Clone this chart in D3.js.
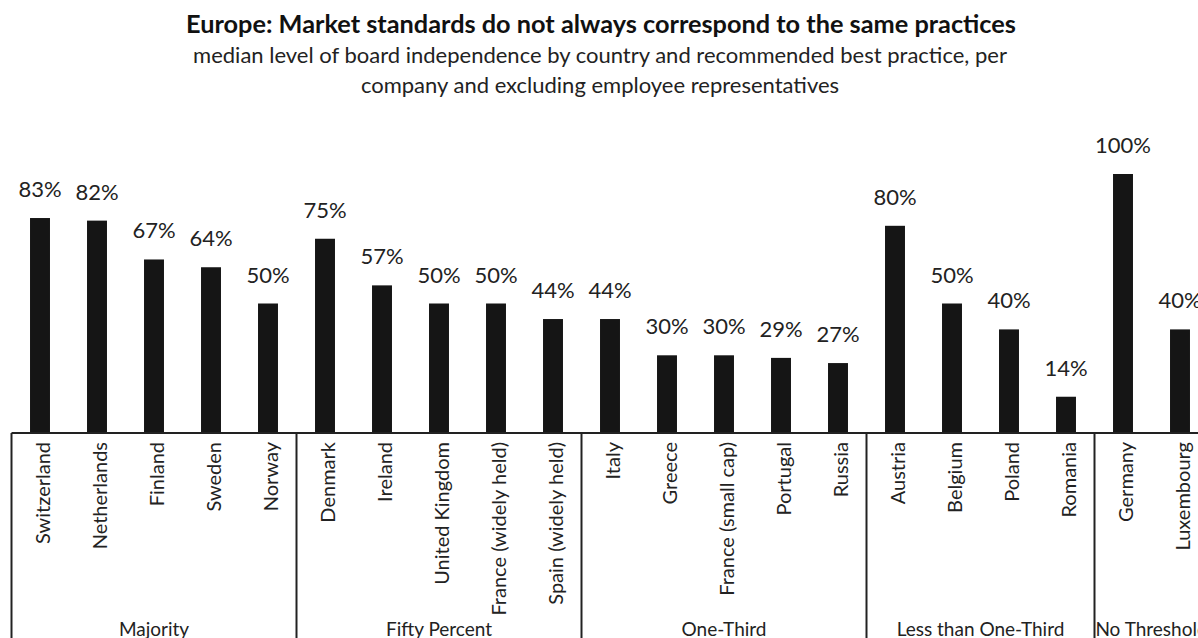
<!DOCTYPE html>
<html>
<head>
<meta charset="utf-8">
<script src="https://cdn.jsdelivr.net/npm/d3@7"></script>
<style>
  html, body { margin: 0; padding: 0; background: #fff; overflow: hidden; }
  svg { display: block; font-family: Lato, "Open Sans", sans-serif; }
</style>
</head>
<body>
<svg id="chart" width="1198" height="638"></svg>
<script>
// country names, in the order they appear on the axis
const countries = [
  "Switzerland", "Netherlands", "Finland", "Sweden", "Norway",
  "Denmark", "Ireland", "United Kingdom", "France (widely held)", "Spain (widely held)",
  "Italy", "Greece", "France (small cap)", "Portugal", "Russia",
  "Austria", "Belgium", "Poland", "Romania",
  "Germany", "Luxembourg"
];
// median board independence, percent
const independence = [
  83, 82, 67, 64, 50,
  75, 57, 50, 50, 44,
  44, 30, 30, 29, 27,
  80, 50, 40, 14,
  100, 40
];
// recommended best practice groups (name + how many countries in each)
const groupNames = ["Majority", "Fifty Percent", "One-Third", "Less than One-Third", "No Threshold"];
const groupSizes = [5, 5, 5, 4, 2];

const titleText = "Europe: Market standards do not always correspond to the same practices";
const subtitleLines = [
  "median level of board independence by country and recommended best practice, per",
  "company and excluding employee representatives"
];

const svg = d3.select("#chart");
const left = 11.5, step = 57, baseY = 433, topY = 174;

// x scale, one band per country (runs a bit past the right edge, like the original crop)
const x = d3.scaleBand()
  .domain(countries)
  .range([left, left + step * countries.length])
  .paddingInner(0.65)
  .paddingOuter(0.325);

const y = d3.scaleLinear().domain([0, 100]).range([baseY, topY]);

// title
svg.append("text")
  .attr("x", 601).attr("y", 33)
  .attr("text-anchor", "middle")
  .attr("font-weight", "bold")
  .attr("font-size", 25.3)
  .attr("fill", "#111")
  .text(titleText);

svg.selectAll(".sub")
  .data(subtitleLines)
  .enter().append("text")
  .attr("class", "sub")
  .attr("x", 600)
  .attr("y", (d, i) => 63 + i * 30)
  .attr("text-anchor", "middle")
  .attr("font-size", 22)
  .attr("fill", "#222")
  .text(d => d);

// bars
svg.selectAll(".bar")
  .data(countries)
  .enter().append("rect")
  .attr("class", "bar")
  .attr("x", d => x(d))
  .attr("y", (d, i) => y(independence[i]))
  .attr("width", x.bandwidth())
  .attr("height", (d, i) => baseY - y(independence[i]))
  .attr("fill", "#151515");

// value labels
svg.selectAll(".val")
  .data(countries)
  .enter().append("text")
  .attr("class", "val")
  .attr("x", d => x(d) + x.bandwidth() / 2)
  .attr("y", (d, i) => y(independence[i]) - 21)
  .attr("text-anchor", "middle")
  .attr("font-size", 22)
  .attr("fill", "#222")
  .text((d, i) => independence[i] + "%");

// category labels, rotated
svg.selectAll(".cat")
  .data(countries)
  .enter().append("text")
  .attr("class", "cat")
  .attr("transform", d => `translate(${x(d) + x.bandwidth() / 2 + 10},442) rotate(-90)`)
  .attr("text-anchor", "end")
  .attr("font-size", 20)
  .attr("fill", "#222")
  .text(d => d);

// axis line
svg.append("line")
  .attr("x1", left).attr("x2", left + step * countries.length)
  .attr("y1", baseY).attr("y2", baseY)
  .attr("stroke", "#222").attr("stroke-width", 2);

// group dividers and group labels
const bounds = [0];
groupSizes.forEach(n => bounds.push(bounds[bounds.length - 1] + n));
const edgeX = i => left + x.step() * i;

svg.selectAll(".divider")
  .data(bounds)
  .enter().append("line")
  .attr("class", "divider")
  .attr("x1", d => edgeX(d)).attr("x2", d => edgeX(d))
  .attr("y1", baseY).attr("y2", 650)
  .attr("stroke", "#222").attr("stroke-width", 2);

svg.selectAll(".grp")
  .data(groupNames)
  .enter().append("text")
  .attr("class", "grp")
  .attr("x", (d, i) => (edgeX(bounds[i]) + edgeX(bounds[i + 1])) / 2)
  .attr("y", 636)
  .attr("text-anchor", "middle")
  .attr("font-size", 19)
  .attr("fill", "#222")
  .text(d => d);
</script>
</body>
</html>
